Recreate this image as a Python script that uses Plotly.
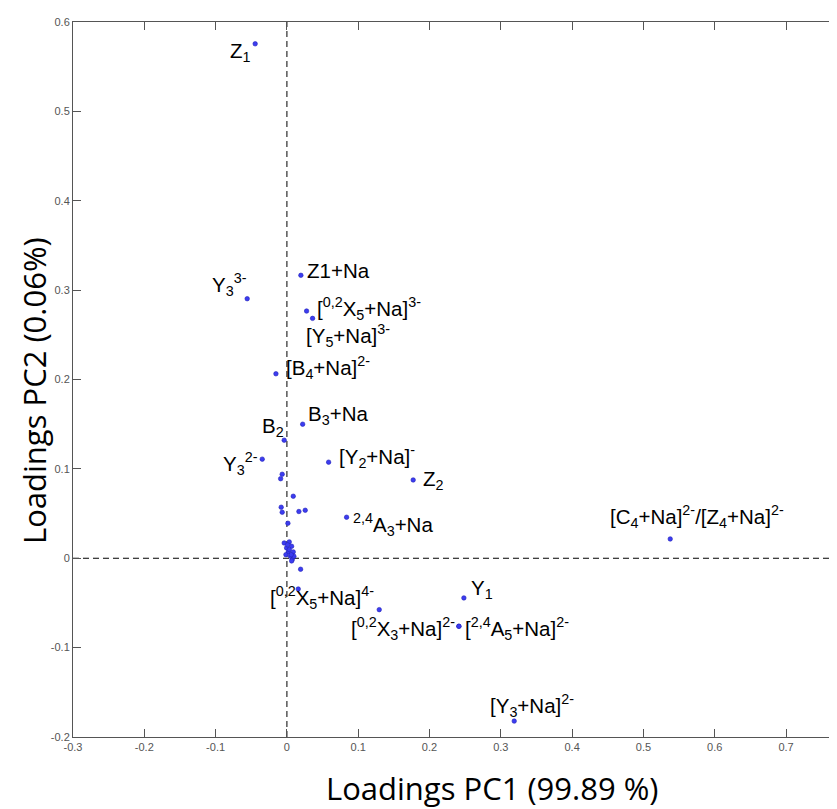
import plotly.graph_objects as go

# ---- data -------------------------------------------------------------
label_names = [
    "Z<sub>1</sub>",
    "Z1+Na",
    "Y<sub>3</sub><sup>3-</sup>",
    "[<sup>0,2</sup>X<sub>5</sub>+Na]<sup>3-</sup>",
    "[Y<sub>5</sub>+Na]<sup>3-</sup>",
    "[B<sub>4</sub>+Na]<sup>2-</sup>",
    "B<sub>3</sub>+Na",
    "B<sub>2</sub>",
    "Y<sub>3</sub><sup>2-</sup>",
    "[Y<sub>2</sub>+Na]<sup>-</sup>",
    "Z<sub>2</sub>",
    "<sup>2,4</sup>A<sub>3</sub>+Na",
    "[C<sub>4</sub>+Na]<sup>2-</sup>/[Z<sub>4</sub>+Na]<sup>2-</sup>",
    "Y<sub>1</sub>",
    "[<sup>0,2</sup>X<sub>3</sub>+Na]<sup>2-</sup>",
    "[<sup>2,4</sup>A<sub>5</sub>+Na]<sup>2-</sup>",
    "[<sup>0,2</sup>X<sub>5</sub>+Na]<sup>4-</sup>",
    "[Y<sub>3</sub>+Na]<sup>2-</sup>",
]
label_pc1 = [-0.0445, 0.0196, -0.0557, 0.0276, 0.0360, -0.0154, 0.0221, -0.0038,
             -0.0346, 0.0585, 0.1771, 0.0837, 0.5376, 0.2482, 0.2412, 0.2412,
             0.1295, 0.3188]
label_pc2 = [0.5756, 0.3166, 0.2904, 0.2766, 0.2684, 0.2064, 0.1500, 0.1321,
             0.1109, 0.1075, 0.0876, 0.0459, 0.0216, -0.0444, -0.0761, -0.0761,
             -0.0575, -0.1822]

other_pc1 = [-0.0066, -0.0088, 0.0089, -0.0080, -0.0066, 0.0168, 0.0257, 0.0014,
             -0.0038, 0.0033, 0.0066, -0.0005, 0.0089, 0.0020, -0.0014, 0.0050,
             0.0075, 0.0098, 0.0033, 0.0010, 0.0060, 0.0066, 0.0192, 0.0159]
other_pc2 = [0.0940, 0.0890, 0.0694, 0.0571, 0.0515, 0.0523, 0.0537, 0.0392,
             0.0171, 0.0183, 0.0134, 0.0116, 0.0071, 0.0071, 0.0040, 0.0022,
             -0.0015, 0.0022, 0.0097, 0.0150, 0.0040, -0.0030, -0.0123, -0.0344]

x_ticks = [-0.3, -0.2, -0.1, 0, 0.1, 0.2, 0.3, 0.4, 0.5, 0.6, 0.7]
x_tick_labels = ["-0.3", "-0.2", "-0.1", "0", "0.1", "0.2", "0.3", "0.4", "0.5", "0.6", "0.7"]
y_ticks = [-0.2, -0.1, 0, 0.1, 0.2, 0.3, 0.4, 0.5, 0.6]
y_tick_labels = ["-0.2", "-0.1", "0", "0.1", "0.2", "0.3", "0.4", "0.5", "0.6"]

# ---- label placement (anchor, xshift px, yshift px) --------------------
label_layout = [
    ("right", -2, -8),
    ("left", 4, 5),
    ("right", 2, 14),
    ("left", 8, 3),
    ("left", -9, -17),
    ("left", 8, 6),
    ("left", 3, 9),
    ("right", 2, 13),
    ("right", -2, -4),
    ("left", 8, 6),
    ("left", 8, 0),
    ("left", 4, -7),
    ("center", 27, 22),
    ("left", 5, 9),
    ("right", -2, -2),
    ("left", 4, -2),
    ("right", -3, 12),
    ("left", -26, 16),
]

# page body has an 8px default margin; figure is sized to fill the rest
OFF = 8
W, H = 837 - OFF, 809 - OFF
L, T = 73 - OFF, 22 - OFF
B = 72
PW = W - L
PH = H - T - B
PLOT_BOTTOM = OFF + H - B  # page pixel of x axis


marker_style = dict(size=4.5, color="#3c3cf0", line=dict(width=0.6, color="#2424b8"))

fig = go.Figure()
fig.add_trace(go.Scatter(x=other_pc1 + label_pc1, y=other_pc2 + label_pc2,
                         mode="markers", marker=marker_style,
                         hoverinfo="x+y", showlegend=False))

for name, px, py, (anc, xs, ys) in zip(label_names, label_pc1, label_pc2, label_layout):
    fig.add_annotation(x=px, y=py, text=name, showarrow=False,
                       xanchor=anc, yanchor="middle", xshift=xs, yshift=ys,
                       font=dict(family="Liberation Sans, Arial, sans-serif",
                                 size=20.5, color="black"))

# dashed zero lines
fig.add_shape(type="line", xref="x", yref="paper", x0=0, x1=0, y0=0, y1=1,
              line=dict(color="black", width=1, dash="6px,4px"), layer="below")
fig.add_shape(type="line", xref="paper", yref="y", x0=0, x1=1, y0=0, y1=0,
              line=dict(color="black", width=1, dash="6px,4px"), layer="below")

title_font = dict(family="Open Sans, sans-serif", size=31, color="black")
fig.add_annotation(text="Loadings PC1 (99.89 %)", showarrow=False,
                   xref="paper", yref="paper",
                   x=(492 - OFF - L) / PW, y=-(788 - PLOT_BOTTOM) / PH,
                   xanchor="center", yanchor="middle", font=title_font)
fig.add_annotation(text="Loadings PC2 (0.06%)", textangle=-90, showarrow=False,
                   xref="paper", yref="paper", x=(34 - OFF - L) / PW,
                   y=(PLOT_BOTTOM - 391) / PH,
                   xanchor="center", yanchor="middle", font=title_font)

tick_font = dict(family="Liberation Sans Narrow, Liberation Sans, Arial", size=11, color="#555555")
fig.update_xaxes(range=[-0.3, 0.7715], tickvals=x_ticks, ticktext=x_tick_labels,
                 ticks="inside", ticklen=8, tickcolor="#555555", tickwidth=1,
                 showline=True, linecolor="#555555", linewidth=1, mirror="ticks",
                 showgrid=False, zeroline=False, tickfont=tick_font, automargin=False)
fig.update_yaxes(range=[-0.2, 0.6], tickvals=y_ticks, ticktext=y_tick_labels,
                 ticks="inside", ticklen=8, tickcolor="#555555", tickwidth=1,
                 showline=True, linecolor="#555555", linewidth=1, mirror=False,
                 showgrid=False, zeroline=False, tickfont=tick_font, automargin=False)

fig.update_layout(width=W, height=H, margin=dict(l=L, r=0, t=T, b=B, autoexpand=False),
                  plot_bgcolor="white", paper_bgcolor="white")

fig.write_html("out.html")
